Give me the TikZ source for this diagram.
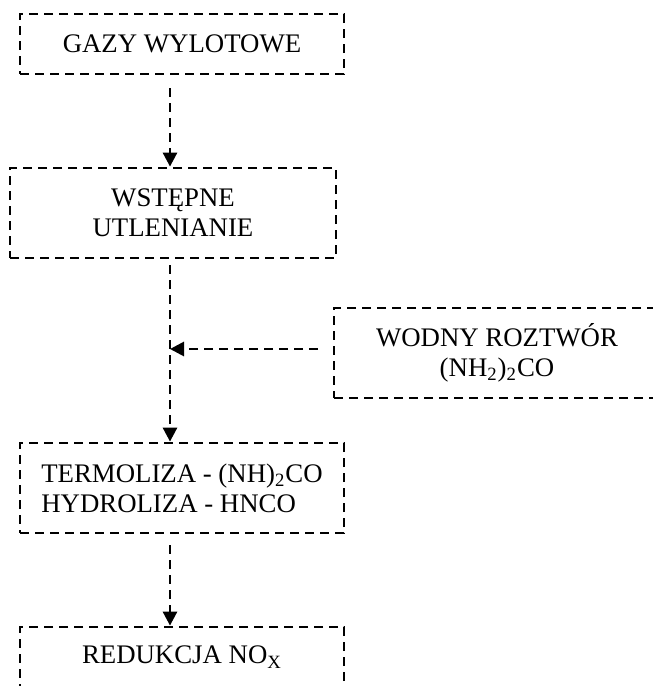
\documentclass[tikz,border=0pt]{standalone}
\usepackage{fontspec}
\setmainfont{Liberation Serif}
\usetikzlibrary{arrows.meta,calc}
\begin{document}
\begin{tikzpicture}[x=0.5pt,y=-0.5pt,
  box/.style={draw,line width=1.4pt,dash pattern=on 4.5pt off 3pt,inner sep=0pt,
    font=\fontsize{13.4}{15}\selectfont,align=center},
  arr/.style={line width=1.4pt,dash pattern=on 4.5pt off 3pt,
    -{Triangle[length=7pt,width=7pt]}}]
\useasboundingbox (0,0) rectangle (653,686);
\clip (0,0) rectangle (653,686);
\node[box,minimum width=162pt,minimum height=30pt] (b1) at (182,44) {GAZY WYLOTOWE};
\node[box,minimum width=163pt,minimum height=45pt] (b2) at (173,213) {WSTĘPNE\\UTLENIANIE};
\node[box,minimum width=163pt,minimum height=45pt] (r) at (497,353) {WODNY ROZTWÓR\\(NH\textsubscript{2})\textsubscript{2}CO};
\node[box,minimum width=162pt,minimum height=45pt,align=left] (b3) at (182,488) {TERMOLIZA - (NH)\textsubscript{2}CO\\HYDROLIZA - HNCO};
\node[box,minimum width=162pt,minimum height=30pt] (b4) at (182,657) {REDUKCJA NO\textsubscript{X}};
\coordinate (a1) at (170,88);
\coordinate (a2) at (170,265);
\coordinate (a3) at (170,545);
\coordinate (j) at (170,349);
\coordinate (a4) at (318,349);
\draw[arr] (a1) -- (a1 |- b2.north);
\draw[arr] (a2) -- (a2 |- b3.north);
\draw[arr] (a3) -- (a3 |- b4.north);
\draw[arr] (a4) -- (j);
\end{tikzpicture}
\end{document}
